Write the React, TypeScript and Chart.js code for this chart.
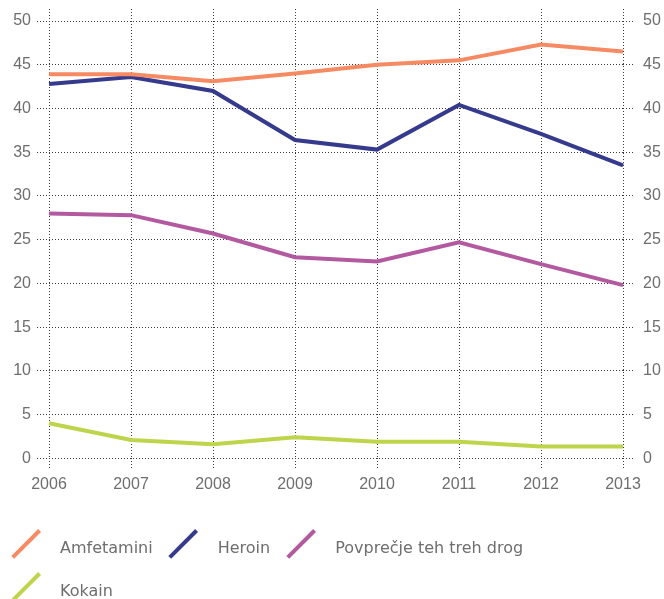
import React, { useEffect, useRef } from "react";
import { Chart, registerables } from "chart.js";

Chart.register(...registerables);

const years = ["2006", "2007", "2008", "2009", "2010", "2011", "2012", "2013"];
const amfetamini = [43.9, 43.9, 43.1, 44.0, 45.0, 45.5, 47.3, 46.5];
const heroin = [42.8, 43.6, 42.0, 36.4, 35.3, 40.4, 37.1, 33.5];
const povprecje = [28.0, 27.8, 25.7, 23.0, 22.5, 24.7, 22.2, 19.8];
const kokain = [4.0, 2.1, 1.6, 2.4, 1.9, 1.9, 1.35, 1.35];
const seriesNames = ["Amfetamini", "Heroin", "Povprečje teh treh drog", "Kokain"];
const seriesColors = ["#F68A62", "#353A8D", "#B3599F", "#BDD44B"];
const yTickValues = [0, 5, 10, 15, 20, 25, 30, 35, 40, 45, 50];

const GRID_COLOR = "#3a3a3a";
const TEXT_COLOR = "#6e6e6e";
const tickFont = { family: '"Liberation Sans", Arial, sans-serif', size: 16 };

function gridStyle(len: number, onArea: boolean) {
  return {
    display: true,
    drawOnChartArea: onArea,
    drawTicks: true,
    color: GRID_COLOR,
    lineWidth: 1,
    tickLength: len,
    tickColor: GRID_COLOR,
    tickWidth: 1,
    tickBorderDash: [1, 2],
  };
}

const dottedBorder = { display: false, dash: [1, 2], dashOffset: 0 };

const setYTicks = (scale: any) => {
  scale.ticks = yTickValues.map((v) => ({ value: v }));
};

export default function App() {
  const canvasRef = useRef<HTMLCanvasElement | null>(null);

  useEffect(() => {
    if (!canvasRef.current) return;
    const seriesData = [amfetamini, heroin, povprecje, kokain];
    const chart = new Chart(canvasRef.current, {
      type: "line",
      data: {
        labels: years,
        datasets: seriesData.map((d, i) => ({
          label: seriesNames[i],
          data: d,
          borderColor: seriesColors[i],
          backgroundColor: seriesColors[i],
          borderWidth: 4,
          pointRadius: 0,
          pointHoverRadius: 0,
          tension: 0,
          fill: false,
        })),
      },
      options: {
        animation: false,
        responsive: true,
        maintainAspectRatio: false,
        events: [],
        layout: { padding: { left: 13, right: 3, top: 9, bottom: 97.5 } },
        plugins: {
          legend: { display: false },
          tooltip: { enabled: false },
        },
        scales: {
          x: {
            type: "category",
            position: "bottom",
            offset: false,
            grid: gridStyle(10, true) as any,
            border: dottedBorder,
            ticks: {
              font: tickFont,
              color: TEXT_COLOR,
              padding: 7,
              maxRotation: 0,
              autoSkip: false,
            },
          },
          xTop: {
            type: "category",
            position: "top",
            offset: false,
            grid: gridStyle(12, false) as any,
            border: dottedBorder,
            ticks: { display: false },
          },
          y: {
            position: "left",
            min: 0,
            max: 50,
            afterBuildTicks: setYTicks,
            afterFit: (scale: any) => {
              scale.width = 36;
            },
            grid: gridStyle(12, true) as any,
            border: dottedBorder,
            ticks: { font: tickFont, color: TEXT_COLOR, padding: 6 },
          },
          y2: {
            position: "right",
            min: 0,
            max: 50,
            afterBuildTicks: setYTicks,
            afterFit: (scale: any) => {
              scale.width = 38;
            },
            grid: gridStyle(12, false) as any,
            border: dottedBorder,
            ticks: { font: tickFont, color: TEXT_COLOR, padding: 8 },
          },
        },
      } as any,
    });
    return () => chart.destroy();
  }, []);

  return (
    <div style={{ position: "absolute", left: 0, top: 0, width: 664, height: 599, overflow: "hidden" }}>
      <div style={{ position: "absolute", left: 0, top: 0, width: 664, height: 599 }}>
        <canvas ref={canvasRef} />
      </div>
      <div
        style={{
          position: "absolute",
          left: 12,
          top: 530,
          width: 560,
          display: "flex",
          flexWrap: "wrap",
          rowGap: 16,
          fontFamily: '"DejaVu Sans", sans-serif',
          fontSize: 16,
          color: TEXT_COLOR,
        }}
      >
        {seriesNames.map((name, i) => (
          <div key={name} style={{ display: "flex", alignItems: "center", height: 27, marginRight: 17 }}>
            <span style={{ position: "relative", width: 27, height: 27, flex: "none" }}>
              <span
                style={{
                  position: "absolute",
                  left: -5.5,
                  top: 11.75,
                  width: 38,
                  height: 3.5,
                  background: seriesColors[i],
                  transform: "rotate(-45deg)",
                }}
              />
            </span>
            <span style={{ marginLeft: 21, position: "relative", top: 4, whiteSpace: "nowrap" }}>{name}</span>
          </div>
        ))}
      </div>
    </div>
  );
}
